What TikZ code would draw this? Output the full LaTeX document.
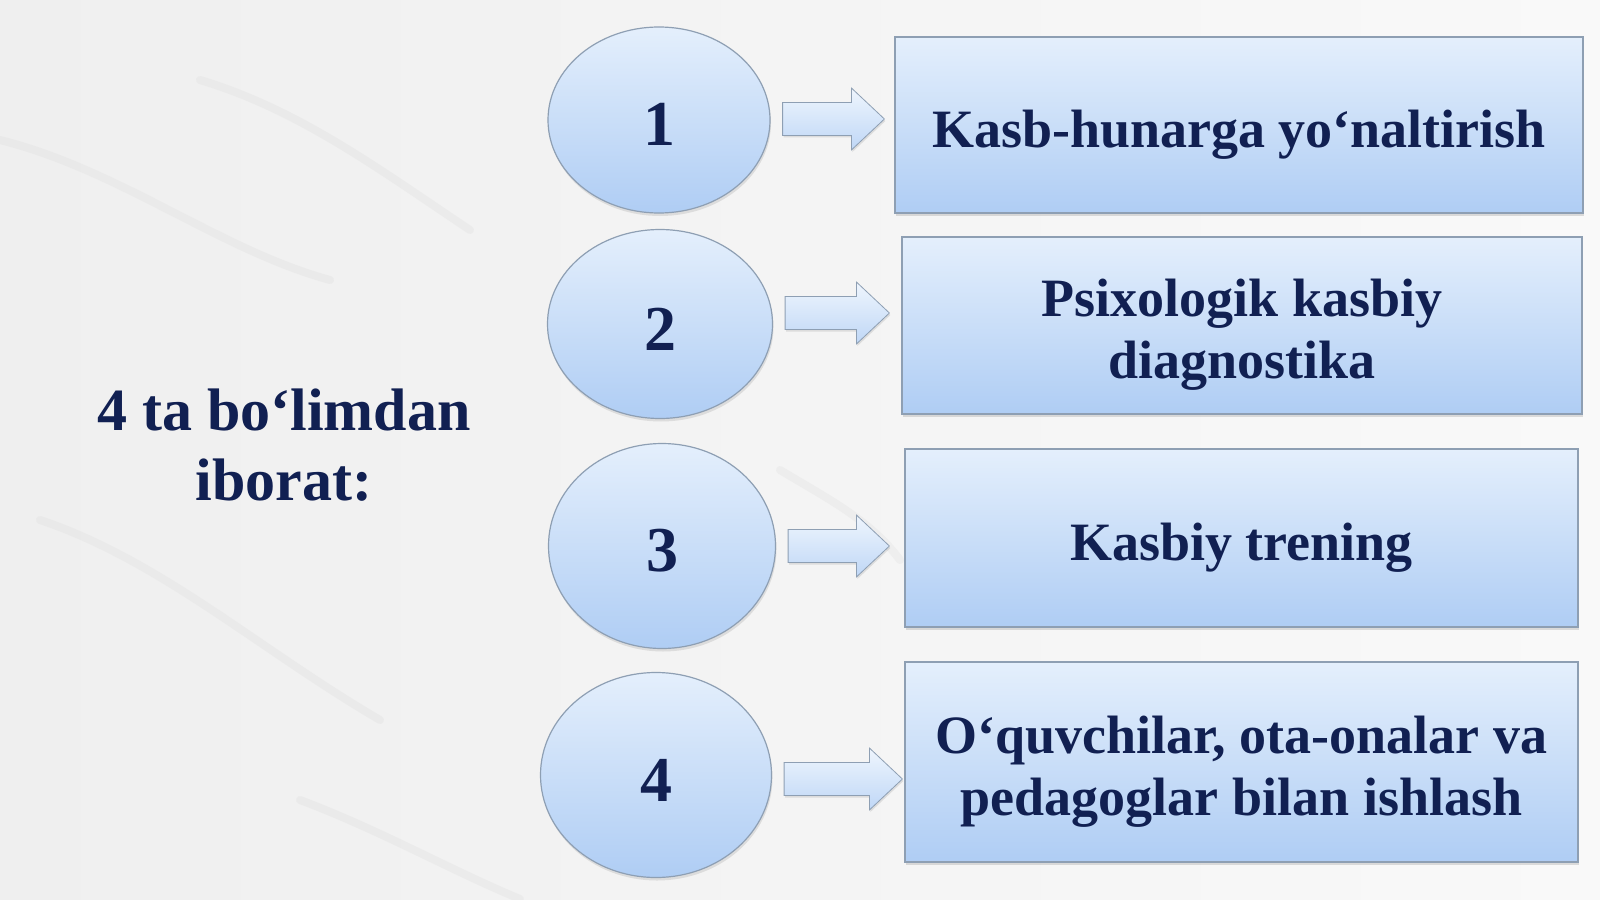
\documentclass[tikz,border=0pt]{standalone}
\usepackage{fontspec}
\setmainfont{Liberation Serif}
\usetikzlibrary{shapes.geometric,shadows,calc}

\definecolor{inktext}{HTML}{112052}
\definecolor{blobtop}{HTML}{E4EFFC}
\definecolor{blobbot}{HTML}{AFCDF4}
\definecolor{blobline}{HTML}{8E9FB3}
\definecolor{marbleA}{HTML}{EFEFEF}
\definecolor{marbleB}{HTML}{F9F9F9}

% invisible strut that pushes box text a little down
\newcommand{\toplift}{\rule{0pt}{28pt}}

\begin{document}
\begin{tikzpicture}[x=0.5pt,y=-0.5pt,
    num/.style={ellipse,draw=blobline,semithick,top color=blobtop,bottom color=blobbot,
      inner sep=0pt,text=inktext,font=\fontsize{32}{32}\selectfont\bfseries,
      execute at begin node=\rule{0pt}{26pt},
      drop shadow={shadow xshift=0.5pt,shadow yshift=-1.5pt,opacity=0.2}},
    topic/.style={rectangle,draw=blobline,semithick,top color=blobtop,bottom color=blobbot,
      inner sep=0pt,align=center,text=inktext,
      font=\fontsize{27}{31}\selectfont\bfseries,
      drop shadow={shadow xshift=0.5pt,shadow yshift=-1.5pt,opacity=0.25}},
    blockarr/.style={draw=blobline,thin,top color=blobtop!60!white,bottom color=blobbot!80!white,
      drop shadow={shadow xshift=0.5pt,shadow yshift=-1pt,opacity=0.2}},
    vein/.style={line width=4pt,gray!35,opacity=0.2,line cap=round}
    ]

% marble background
\useasboundingbox (0,0) rectangle (1600,899);
\shade[left color=marbleA,right color=marbleB] (0,0) rectangle (1600,899);
\draw[vein] (0,140) .. controls (120,170) and (220,250) .. (330,280);
\draw[vein] (200,80) .. controls (300,110) and (380,170) .. (470,230);
\draw[vein] (40,520) .. controls (160,560) and (260,650) .. (380,720);
\draw[vein] (780,470) .. controls (830,500) and (870,520) .. (900,560);
\draw[vein] (300,800) .. controls (380,830) and (450,870) .. (520,899);

% title
\node[text=inktext,align=center,font=\fontsize{30}{35}\selectfont\bfseries] (title) at (284,445)
  {4 ta bo‘limdan\\iborat:};

% numbers
\node[num,minimum width=111pt,minimum height=93pt] (c1) at (659,120) {1};
\node[num,minimum width=112.5pt,minimum height=94.5pt] (c2) at (660,324) {2};
\node[num,minimum width=113.5pt,minimum height=102.5pt] (c3) at (662,546) {3};
\node[num,minimum width=115.5pt,minimum height=102.5pt] (c4) at (656,775) {4};

% topics
\node[topic,minimum width=344pt,minimum height=88pt] (b1) at (1239,125) {\toplift Kasb-hunarga yo‘naltirish};
\node[topic,minimum width=340pt,minimum height=88.5pt] (b2) at (1242,325.5) {\toplift Psixologik kasbiy\\diagnostika};
\node[topic,minimum width=336.5pt,minimum height=89pt] (b3) at (1241.5,538) {\toplift Kasbiy trening};
\node[topic,minimum width=336.5pt,minimum height=100pt] (b4) at (1241.5,762) {\toplift O‘quvchilar, ota-onalar va\\pedagoglar bilan ishlash};

% block arrows
\foreach \a/\b/\dy/\gap in {c1/b1/-1/10, c2/b2/-11/12, c3/b3/0/15, c4/b4/4/2}
  \path[blockarr] let \p1=($(\a.east)+(12,\dy)$), \p2=($(\b.west)+(-\gap,0)$) in
    (\x1,\y1+8.25pt) -- (\x2-16.5pt,\y1+8.25pt) -- (\x2-16.5pt,\y1+15.5pt) -- (\x2,\y1)
    -- (\x2-16.5pt,\y1-15.5pt) -- (\x2-16.5pt,\y1-8.25pt) -- (\x1,\y1-8.25pt) -- cycle;

\end{tikzpicture}
\end{document}
